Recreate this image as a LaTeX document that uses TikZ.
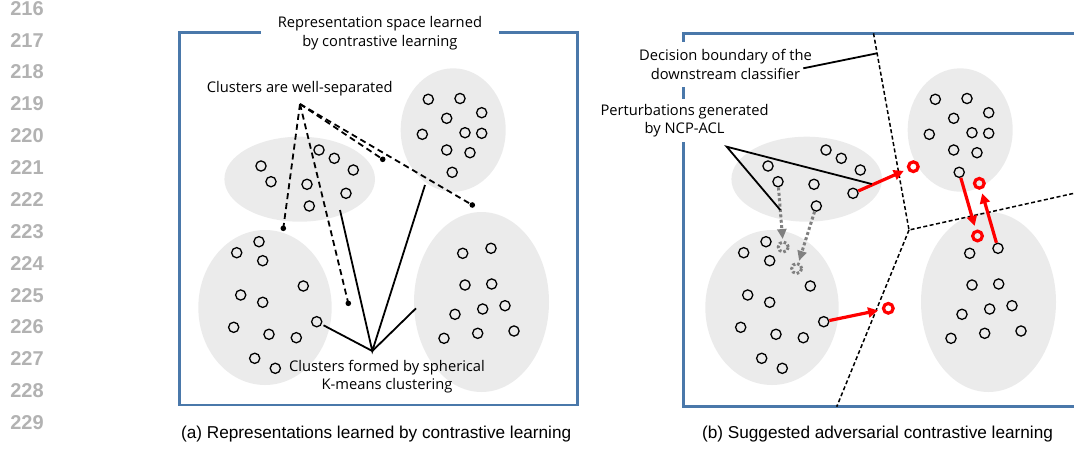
\documentclass[tikz,border=0pt]{standalone}
\usepackage{fontspec}
\setmainfont{Open Sans}
\newfontfamily\capfont{Liberation Sans}
\usetikzlibrary{arrows.meta}

\definecolor{panelblue}{RGB}{74,120,170}
\definecolor{clustergray}{RGB}{235,235,235}
\definecolor{linenogray}{RGB}{178,178,178}
\definecolor{pertgray}{RGB}{128,128,128}

\newcommand{\lblfont}{\fontsize{14.7}{18.4}\selectfont}

\tikzset{
  panel/.style={draw=panelblue, line width=2.6pt},
  cluster/.style={fill=clustergray},
  sample/.style={circle, draw, line width=1.3pt, minimum size=10.2pt, inner sep=0pt},
  advsample/.style={circle, draw=red, line width=3.2pt, minimum size=9.7pt, inner sep=0pt},
  ghostsample/.style={circle, draw=pertgray, line width=3pt, dash pattern=on 2.6pt off 2pt, minimum size=10pt, inner sep=0pt},
  callout/.style={font=\lblfont, align=center, inner sep=0pt},
  leader/.style={line width=1.8pt},
  sepline/.style={line width=1.8pt, dash pattern=on 6pt off 4pt},
  boundary/.style={line width=1.5pt, dash pattern=on 4pt off 2.5pt},
  advarrow/.style={draw=red, line width=3.2pt, -{Triangle[length=10pt,width=10pt]}, shorten >=4pt},
  pertarrow/.style={draw=pertgray, line width=3pt, dash pattern=on 3pt off 2.4pt, -{Triangle[length=10pt,width=9pt]}, shorten >=1.5pt},
  lineno/.style={font=\capfont\bfseries\fontsize{20}{20}\selectfont, text=linenogray, inner sep=0pt},
  subcap/.style={font=\capfont\fontsize{17.2}{20}\selectfont, inner sep=0pt},
}

% four clusters of one panel, node names start with #1
\newcommand{\clusterpanel}[1]{%
  \fill[cluster] (299.7,179.2) ellipse (75.3 and 42.5);
  \fill[cluster] (453.2,130) ellipse (52.5 and 61.7);
  \fill[cluster] (265,307.5) ellipse (66.7 and 77.5);
  \fill[cluster] (481.5,302) ellipse (67.5 and 90);
  \foreach \x/\y [count=\i] in {261/166, 271/181.7, 319/150, 334.3/158.3, 353.3/170,
      307/184.3, 346/193.3, 309.3/206}
    \node[sample] (#1-tm-\i) at (\x,\y) {};
  \foreach \x/\y [count=\i] in {428.3/99.3, 460/98.5, 481.7/112.7, 446.7/118.3, 422.3/134.3,
      465/132.7, 481.7/133.3, 446.7/150, 470/152.7, 452.2/172.3}
    \node[sample] (#1-tr-\i) at (\x,\y) {};
  \foreach \x/\y [count=\i] in {259/241.7, 236.7/252.7, 262.7/260.7, 303.3/286, 240.7/295,
      262.7/302.3, 233.7/327.3, 269/334.3, 296.3/337.7, 316.7/321.7, 254.7/358.3, 275.3/368.3}
    \node[sample] (#1-bl-\i) at (\x,\y) {};
  \foreach \x/\y [count=\i] in {462.7/253.3, 491/248.3, 465/285, 491.7/284, 455/314.3,
      482.7/309, 505/305.7, 444/338.3, 477.7/333.3, 514/331}
    \node[sample] (#1-br-\i) at (\x,\y) {};
}

\begin{document}
\begin{tikzpicture}[x=1pt, y=-1pt]
  \useasboundingbox (0,0) rectangle (1074,448);
  \clip (0,0) rectangle (1074,448);

  % line numbers
  \foreach \n [count=\i from 0] in {216,...,229}
    \node[lineno] (ln\n) at (27,{8.3+31.87*\i}) {\n};

  % (a) panel
  \draw[panel] (179.3,32.3) rectangle (577.3,405);
  \node[callout, fill=white, minimum width=238.3pt, minimum height=40pt] (titleA) at (379.9,33)
    {Representation space learned\\by contrastive learning};
  \clusterpanel{a}

  \node[callout] (sepLbl) at (299.7,89) {Clusters are well-separated};
  \coordinate (sepTip) at (300,104);
  \coordinate (sd1) at (283.3,228.3);
  \coordinate (sd2) at (348.3,303.3);
  \coordinate (sd3) at (382.7,159.3);
  \coordinate (sd4) at (472.3,205);
  \foreach \d in {sd1,sd2,sd3,sd4} {
    \draw[sepline] (sepTip) -- (\d);
    \fill (\d) circle (2.8);
  }

  \node[callout] (kmLbl) at (387,376.5) {Clusters formed by spherical\\K-means clustering};
  \coordinate (kmTip) at (372.3,351);
  \coordinate (km1) at (340,210);
  \coordinate (km2) at (425,185);
  \coordinate (km3) at (416,308.3);
  \draw[leader, shorten <=2pt] (a-bl-10) -- (kmTip);
  \draw[leader] (km1) -- (kmTip) -- (km2);
  \draw[leader] (km3) -- (kmTip);

  \node[subcap] (capA) at (376.2,434) {(a) Representations learned by contrastive learning};

  % (b) panel
  \draw[panel] (1090,33.3) -- (683.3,33.3) -- (683.3,406.7) -- (1090,406.7);
  \node[callout, fill=white, minimum height=45.6pt] (dbLbl) at (725.5,64.5)
    {Decision boundary of the\\downstream classifier};
  \node[callout, fill=white, minimum height=42.4pt] (ptLbl) at (684.6,120.5)
    {Perturbations generated\\by NCP-ACL};
  \begin{scope}[xshift=507pt]
    \clusterpanel{b}
  \end{scope}

  % decision boundary
  \coordinate (dbTop) at (873.5,33.3);
  \coordinate (dbJoin) at (909,230);
  \coordinate (dbRight) at (1100,187.5);
  \coordinate (dbBot) at (836.7,406.7);
  \draw[boundary] (dbTop) -- (dbJoin) -- (dbRight);
  \draw[boundary] (dbJoin) -- (dbBot);
  \coordinate (dbLeadA) at (803.3,68.3);
  \coordinate (dbLeadB) at (877,53.3);
  \draw[leader] (dbLeadA) -- (dbLeadB);

  % perturbed samples
  \node[ghostsample] (g1) at (783.3,247) {};
  \node[ghostsample] (g2) at (796.7,268.5) {};
  \draw[pertarrow] (b-tm-2) -- (g1);
  \draw[pertarrow] (b-tm-8) -- (g2);

  \node[advsample] (r1) at (913.3,166.7) {};
  \node[advsample] (r2) at (979.3,183.3) {};
  \node[advsample] (r3) at (977.5,236) {};
  \node[advsample] (r4) at (888.3,308.3) {};
  \draw[advarrow] (b-tm-7) -- (r1);
  \draw[advarrow] (b-tr-10) -- (r3);
  \draw[advarrow] (b-br-2) -- (r2);
  \draw[advarrow] (b-bl-10) -- (r4);

  \coordinate (ptTip) at (726.7,146.7);
  \coordinate (pt1) at (871.7,184);
  \coordinate (pt2) at (780.3,210);
  \draw[leader] (pt1) -- (ptTip) -- (pt2);

  \node[subcap] (capB) at (877.5,434) {(b) Suggested adversarial contrastive learning};
\end{tikzpicture}
\end{document}
